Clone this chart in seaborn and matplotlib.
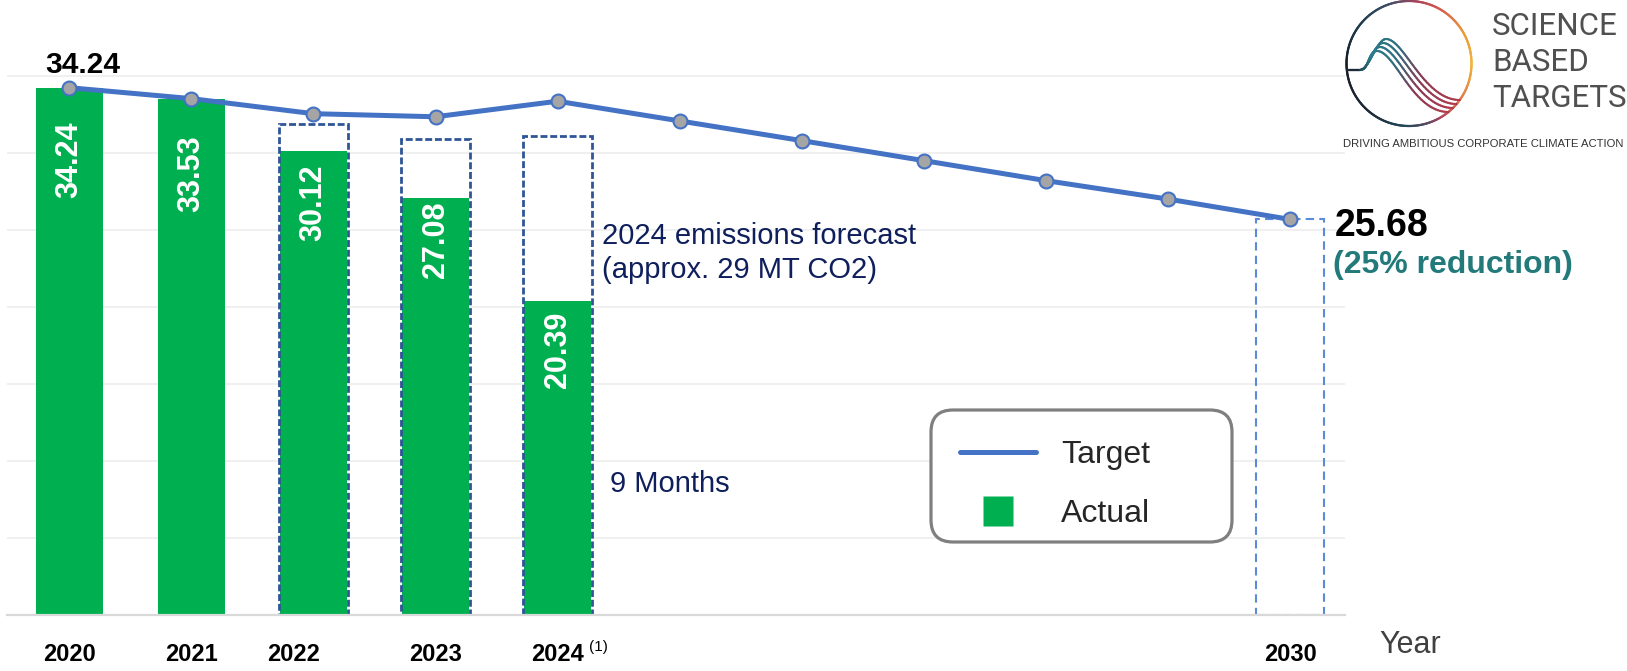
import numpy as np
import matplotlib
matplotlib.use("Agg")
import matplotlib.pyplot as plt
import seaborn as sns
from matplotlib import font_manager
from matplotlib.collections import LineCollection
from matplotlib.colors import LinearSegmentedColormap
from matplotlib.lines import Line2D
from matplotlib.patches import FancyBboxPatch
from matplotlib.transforms import IdentityTransform, ScaledTranslation

# ---------------- data (MT CO2) ----------------
years = list(range(2020, 2031))
target = [34.24, 33.53, 32.55, 32.35, 33.36, 32.08, 30.80, 29.50, 28.20, 27.00, 25.68]
actual_years = [2020, 2021, 2022, 2023, 2024]
actual = [34.24, 33.53, 30.12, 27.08, 20.39]
outline_years = [2022, 2023, 2024]
outline_values = [31.87, 30.93, 31.13]
goal_years = [2030]
goal_values = [25.68]
tick_years = [2020, 2021, 2022, 2023, 2024, 2030]
tick_labels = ["2020", "2021", "2022", "2023", "2024", "2030"]
legend_labels = ["Target", "Actual"]
forecast_note = "2024 emissions forecast\n(approx. 29 MT CO2)"
months_note = "9 Months"

# ---------------- style ----------------
GREEN = "#00B050"
BLUE = "#4472C4"
DASH_NAVY = "#2F5597"
NOTE_NAVY = "#0E1F5B"
TEAL = "#237A7A"
GRID = "#EFEFEF"
BASE = "#D9D9D9"

sns.set_theme(style="white")
plt.rcParams["font.family"] = ["Liberation Sans", "DejaVu Sans"]

installed = {f.name for f in font_manager.fontManager.ttflist}
HAS_NARROW = "Liberation Sans Narrow" in installed
NARROW = ["Liberation Sans Narrow", "Liberation Sans"] if HAS_NARROW else ["Liberation Sans"]

W, H = 1627, 671
fig = plt.figure(figsize=(W / 100, H / 100), dpi=100)
fig.patch.set_facecolor("white")

BASE_Y = 614.5      # pixel row of the zero line
UNIT = 15.386       # pixels per MT
YMAX = 36
ax = fig.add_axes([7 / W, (H - BASE_Y) / H, (1345 - 7) / W, YMAX * UNIT / H])
ax.set_facecolor("white")

# actual emissions bars
sns.barplot(x=actual_years, y=actual, native_scale=True, width=0.55, color=GREEN,
            saturation=1, errorbar=None, edgecolor=GREEN, linewidth=0, ax=ax, zorder=2)

# dashed outlines for full-year estimates
ax.bar(outline_years, outline_values, width=0.56, fill=False, edgecolor=DASH_NAVY,
       linewidth=2.0, linestyle=(0, (2.5, 1.0)), zorder=3)
ax.bar(goal_years, goal_values, width=0.55, fill=False, edgecolor="#5B8BD6",
       linewidth=1.5, linestyle=(0, (4, 2.5)), zorder=3)

# target trajectory
sns.lineplot(x=years, y=target, color=BLUE, linewidth=3.6, marker="o", markersize=10,
             markerfacecolor="#A5A5A5", markeredgecolor=BLUE, markeredgewidth=1.5,
             ax=ax, zorder=6)

# value labels inside bars
drops_pt = [24.5, 26.6, 9.4, 2.9, 7.9]
for yr, v, d in zip(actual_years, actual, drops_pt):
    ax.annotate(f"{v:.2f}", xy=(yr, v), xytext=(0, -d), textcoords="offset points",
                rotation=90, ha="center", va="top", color="white", fontsize=22,
                fontweight="bold", zorder=7)

# start and goal labels
ax.annotate(f"{target[0]:.2f}", xy=(years[0], target[0]), xytext=(9.7, 16.5),
            textcoords="offset points", ha="center", va="center", fontsize=21.5,
            fontweight="bold", color="black", annotation_clip=False)
ax.annotate(f"{target[-1]:.2f}", xy=(years[-1], target[-1]), xytext=(32.4, -4.5),
            textcoords="offset points", ha="left", va="center", fontsize=27,
            fontweight="bold", color="black", annotation_clip=False)
reduction = round((1 - target[-1] / target[0]) * 100)
ax.annotate(f"({reduction}% reduction)", xy=(years[-1], target[-1]), xytext=(31, -32.6),
            textcoords="offset points", ha="left", va="center", fontsize=23,
            fontweight="bold", color=TEAL, annotation_clip=False)

# notes beside the 2024 bar
ax.text(2024.36, 23.5, forecast_note, ha="left", va="center", fontsize=21,
        color=NOTE_NAVY, linespacing=1.25, zorder=7)
ax.text(2024.43, 8.45, months_note, ha="left", va="center", fontsize=21,
        color=NOTE_NAVY, zorder=7)

# axes cosmetics
ax.set_xlim(2019.49, 2030.45)
ax.set_ylim(0, YMAX)
ax.set_yticks(np.arange(0, 40, 5))
ax.yaxis.grid(True, color=GRID, linewidth=1.3)
ax.xaxis.grid(False)
ax.set_axisbelow(True)
ax.tick_params(axis="y", left=False, labelleft=False)
for side in ("top", "right", "left"):
    ax.spines[side].set_visible(False)
ax.spines["bottom"].set_color(BASE)
ax.spines["bottom"].set_linewidth(1.6)
ax.spines["bottom"].set_zorder(4)
ax.set_xlabel("")
ax.set_ylabel("")

tick_size = 20 if HAS_NARROW else 17
ax.tick_params(axis="x", length=0, pad=20.5, labelsize=tick_size, labelcolor="black")
ax.set_xticks(tick_years, tick_labels)
for lab in ax.get_xticklabels():
    lab.set_fontweight("bold")
    lab.set_family(NARROW)
    if lab.get_text() == "2022":
        lab.set_transform(lab.get_transform() + ScaledTranslation(-0.20, 0, fig.dpi_scale_trans))

ax.annotate("(1)", xy=(2024, 0), xycoords=("data", "axes fraction"), xytext=(29.5, -23.5),
            textcoords="offset points", ha="center", va="center", fontsize=11,
            color="black", annotation_clip=False)
ax.annotate("Year", xy=(1, 0), xycoords="axes fraction", xytext=(25, -22),
            textcoords="offset points", ha="left", va="center", fontsize=22,
            color="#404040", annotation_clip=False)

# legend with rounded grey frame
frame = FancyBboxPatch((931, H - 542), 301, 132, boxstyle="round,pad=0,rounding_size=22",
                       transform=IdentityTransform(), facecolor="white",
                       edgecolor="#7F7F7F", linewidth=2.3, zorder=8, clip_on=False)
ax.add_patch(frame)
handles = [Line2D([], [], color=BLUE, linewidth=3.6),
           Line2D([], [], linestyle="none", marker="s", markersize=22,
                  markerfacecolor=GREEN, markeredgecolor="none")]
leg = ax.legend(handles, legend_labels, loc="upper left",
                bbox_to_anchor=(960 / W, 1 - 440 / H), bbox_transform=fig.transFigure,
                frameon=False, fontsize=23, handlelength=2.38, handletextpad=0.78,
                labelspacing=0.9, borderpad=0, borderaxespad=0)
leg.set_zorder(10)

# ---------------- SBTi emblem ----------------
lax = fig.add_axes([1330 / W, 1 - 160 / H, 297 / W, 160 / H])
lax.set_xlim(1330, 1627)
lax.set_ylim(160, 0)
lax.axis("off")
lax.patch.set_alpha(0)

ring_cmap = LinearSegmentedColormap.from_list("ring", [
    (0.00, "#F0B43A"), (0.08, "#EB9A3C"), (0.17, "#D55A4C"), (0.23, "#A8445C"),
    (0.30, "#3F4F6A"), (0.40, "#1D3A4C"), (0.50, "#171C26"), (0.65, "#1C2B3A"),
    (0.74, "#20475A"), (0.80, "#5A4A62"), (0.84, "#B5475A"), (0.91, "#E37B45"),
    (1.00, "#F0B43A")])
cx, cy, r = 1409, 63.5, 62.5
phi = np.linspace(0, 2 * np.pi, 361)
xs, ys = cx + r * np.cos(phi), cy - r * np.sin(phi)
pts = np.column_stack([xs, ys])
segs = np.stack([pts[:-1], pts[1:]], axis=1)
ring = LineCollection(segs, cmap=ring_cmap, norm=plt.Normalize(0, 1),
                      linewidths=1.6, capstyle="round", clip_on=False)
ring.set_array(phi[:-1] / (2 * np.pi))
lax.add_collection(ring)

wave_cmap = LinearSegmentedColormap.from_list("wave", [
    (0.0, "#1D2B38"), (0.22, "#2A7E8A"), (0.45, "#2F6F80"), (0.7, "#8A3A55"), (1.0, "#B23C4A")])


def bezier(p0, p1, p2, p3, n=50):
    t = np.linspace(0, 1, n)[:, None]
    p0, p1, p2, p3 = map(np.asarray, (p0, p1, p2, p3))
    return (1 - t) ** 3 * p0 + 3 * (1 - t) ** 2 * t * p1 + 3 * (1 - t) * t ** 2 * p2 + t ** 3 * p3


for k in range(4):
    px_, py_ = 1386 - 3.0 * k, 39 + 4 * k
    ey = 100 + 4 * k
    ex = cx + np.sqrt(r ** 2 - (ey - cy) ** 2)
    flat = np.array([[1347, 70], [1360, 70]], dtype=float)
    rise = bezier((1360, 70), (1369, 70), (px_ - 9, py_), (px_, py_))
    fall = bezier((px_, py_), (px_ + 18, py_), (ex - 36, ey), (ex, ey))
    curve = np.vstack([flat, rise[1:], fall[1:]])
    seg = np.stack([curve[:-1], curve[1:]], axis=1)
    d = np.r_[0, np.cumsum(np.hypot(*np.diff(curve, axis=0).T))]
    wl = LineCollection(seg, cmap=wave_cmap, norm=plt.Normalize(0, 1),
                        linewidths=1.5, capstyle="round", clip_on=False)
    wl.set_array(d[:-1] / d[-1])
    lax.add_collection(wl)

logo_font = ["Roboto", "Liberation Sans"]
for word, base in zip(["SCIENCE", "BASED", "TARGETS"], [35, 71, 107]):
    lax.text(1492, base, word, fontsize=22.5, color="#505050", family=logo_font,
             fontweight="normal", va="baseline", ha="left", clip_on=False)
lax.text(1343, 147, "DRIVING AMBITIOUS CORPORATE CLIMATE ACTION",
         fontsize=9.8 if HAS_NARROW else 8.1, color="#333333", family=NARROW,
         va="baseline", ha="left", clip_on=False)

fig.savefig("out.png", dpi=100, facecolor="white")
